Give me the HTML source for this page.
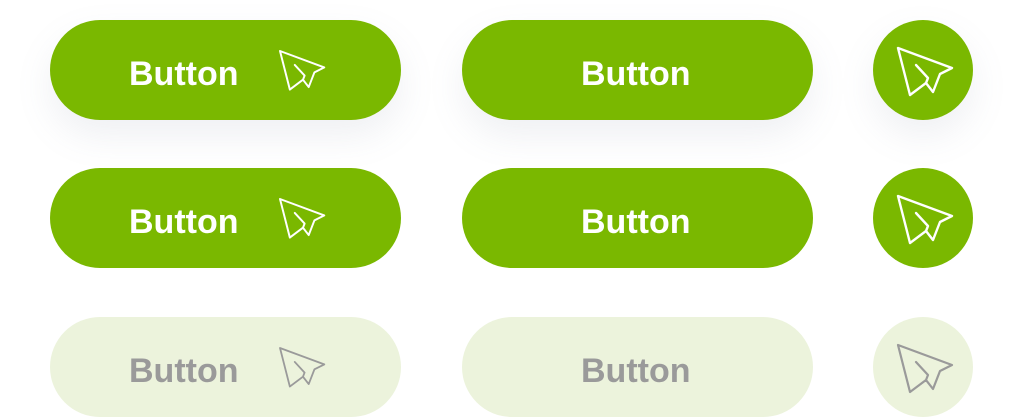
<!DOCTYPE html>
<html><head><style>
html,body{margin:0;padding:0;background:#fff;width:1024px;height:417px;overflow:hidden;position:relative;font-family:"Liberation Sans",sans-serif}
.b{position:absolute;height:100px;border-radius:50px;background:#7ab800;color:#fff;font-weight:bold;font-size:34px;line-height:100px}
.sh{box-shadow:0 16px 36px rgba(120,130,160,0.12)}
.d{background:#ecf3dc;color:#9a9a9a}
.t{position:absolute;top:4px}
svg{position:absolute;left:0;top:0}
</style></head><body>
<div class="b sh" style="left:50px;top:20px;width:351px"><span class="t" style="left:79px">Button</span></div>
<div class="b sh" style="left:462px;top:20px;width:351px"><span class="t" style="left:119px">Button</span></div>
<div class="b sh" style="left:873px;top:20px;width:100px"></div>
<div class="b" style="left:50px;top:168px;width:351px"><span class="t" style="left:79px">Button</span></div>
<div class="b" style="left:462px;top:168px;width:351px"><span class="t" style="left:119px">Button</span></div>
<div class="b" style="left:873px;top:168px;width:100px"></div>
<div class="b d" style="left:50px;top:317px;width:351px"><span class="t" style="left:79px">Button</span></div>
<div class="b d" style="left:462px;top:317px;width:351px"><span class="t" style="left:119px">Button</span></div>
<div class="b d" style="left:873px;top:317px;width:100px"></div>
<svg width="1024" height="417" fill="none" stroke-linejoin="round" stroke-linecap="round">
<defs><g id="p"><path d="M0,0 L54,20 L42,26 L35,44 L28,35 L12,47 Z M18,17 L30,30 L28,35"/></g></defs>
<g stroke="#fff" stroke-width="2.4">
<use href="#p" transform="translate(280,51) scale(0.82)"/>
<use href="#p" transform="translate(898,48)"/>
<use href="#p" transform="translate(280,199) scale(0.82)"/>
<use href="#p" transform="translate(898,196)"/>
</g>
<g stroke="#9a9a9a" stroke-width="2.2">
<use href="#p" transform="translate(280,348) scale(0.82)"/>
<use href="#p" transform="translate(898,345)"/>
</g>
</svg>
</body></html>
